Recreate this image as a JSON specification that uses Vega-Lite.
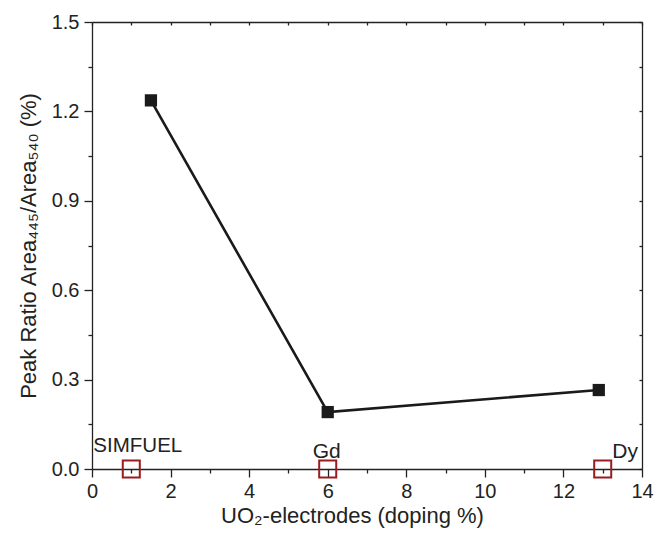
{
  "$schema": "https://vega.github.io/schema/vega-lite/v6.json",
  "width": 550,
  "height": 447,
  "autosize": {"type": "none"},
  "padding": {"left": 92, "top": 22, "right": 12, "bottom": 65},
  "background": "white",
  "config": {
    "view": {"stroke": null},
    "font": "Liberation Sans",
    "axis": {
      "grid": false,
      "domainColor": "#222222",
      "domainWidth": 1.3,
      "tickColor": "#222222",
      "tickWidth": 1.3,
      "labelFont": "Liberation Sans",
      "labelFontSize": 20,
      "labelColor": "#222222",
      "titleFont": "Liberation Sans",
      "titleFontSize": 22,
      "titleFontWeight": "normal",
      "titleColor": "#222222"
    }
  },
  "datasets": {
    "series": [
      {"doping": 1.5, "ratio": 1.237},
      {"doping": 6.0, "ratio": 0.191},
      {"doping": 12.9, "ratio": 0.265}
    ],
    "electrodes": [
      {"doping": 1, "ratio": 0, "name": "SIMFUEL"},
      {"doping": 6, "ratio": 0, "name": "Gd"},
      {"doping": 13, "ratio": 0, "name": "Dy"}
    ]
  },
  "resolve": {"axis": {"x": "independent", "y": "independent"}},
  "layer": [
    {
      "data": {"name": "series"},
      "mark": {"type": "line", "color": "#1a1a1a", "strokeWidth": 2.6},
      "encoding": {
        "x": {
          "field": "doping", "type": "quantitative",
          "scale": {"domain": [0, 14], "nice": false, "zero": false},
          "axis": {
            "orient": "bottom",
            "values": [0,1,2,3,4,5,6,7,8,9,10,11,12,13,14],
            "labelExpr": "datum.value % 2 == 0 ? datum.label : ''",
            "tickSize": {"condition": {"test": "datum.value % 2 == 0", "value": 8}, "value": 4},
            "labelPadding": 4,
            "labelFlush": false,
            "labelOverlap": false,
            "title": "UO₂-electrodes (doping %)",
            "titleX": 260,
            "titlePadding": 4
          }
        },
        "y": {
          "field": "ratio", "type": "quantitative",
          "scale": {"domain": [0, 1.5], "nice": false, "zero": false},
          "axis": {
            "orient": "left",
            "values": [0,0.15,0.3,0.45,0.6,0.75,0.9,1.05,1.2,1.35,1.5],
            "format": ".1f",
            "labelExpr": "round(datum.value*100) % 30 == 0 ? datum.label : ''",
            "tickSize": {"condition": {"test": "round(datum.value*100) % 30 == 0", "value": 8}, "value": 4},
            "labelPadding": 5,
            "labelFlush": false,
            "labelOverlap": false,
            "title": "Peak Ratio Area₄₄₅/Area₅₄₀ (%)",
            "titlePadding": 11
          }
        }
      }
    },
    {
      "data": {"name": "series"},
      "mark": {"type": "point", "shape": "square", "filled": true, "color": "#1a1a1a", "size": 150, "opacity": 1},
      "encoding": {
        "x": {
          "field": "doping", "type": "quantitative",
          "axis": {
            "orient": "top",
            "values": [0,1,2,3,4,5,6,7,8,9,10,11,12,13,14],
            "labels": false,
            "tickSize": -3,
            "title": null
          }
        },
        "y": {
          "field": "ratio", "type": "quantitative",
          "axis": {
            "orient": "right",
            "values": [0,0.15,0.3,0.45,0.6,0.75,0.9,1.05,1.2,1.35,1.5],
            "labels": false,
            "tickSize": -3,
            "title": null
          }
        }
      }
    },
    {
      "data": {"name": "electrodes"},
      "mark": {"type": "point", "shape": "square", "filled": false, "color": "#9a1c1f", "strokeWidth": 2, "size": 290, "opacity": 1},
      "encoding": {
        "x": {"field": "doping", "type": "quantitative", "axis": null},
        "y": {"field": "ratio", "type": "quantitative", "axis": null}
      }
    },
    {
      "data": {"name": "electrodes"},
      "transform": [{"filter": "datum.name == 'SIMFUEL'"}],
      "mark": {"type": "text", "fontSize": 20.5, "color": "#222222", "align": "center", "baseline": "alphabetic", "dx": 6.5, "dy": -17.5},
      "encoding": {
        "x": {"field": "doping", "type": "quantitative", "axis": null},
        "y": {"field": "ratio", "type": "quantitative", "axis": null},
        "text": {"field": "name"}
      }
    },
    {
      "data": {"name": "electrodes"},
      "transform": [{"filter": "datum.name == 'Gd'"}],
      "mark": {"type": "text", "fontSize": 21, "color": "#222222", "align": "center", "baseline": "alphabetic", "dx": -1, "dy": -11},
      "encoding": {
        "x": {"field": "doping", "type": "quantitative", "axis": null},
        "y": {"field": "ratio", "type": "quantitative", "axis": null},
        "text": {"field": "name"}
      }
    },
    {
      "data": {"name": "electrodes"},
      "transform": [{"filter": "datum.name == 'Dy'"}],
      "mark": {"type": "text", "fontSize": 21, "color": "#222222", "align": "left", "baseline": "alphabetic", "dx": 9.5, "dy": -11},
      "encoding": {
        "x": {"field": "doping", "type": "quantitative", "axis": null},
        "y": {"field": "ratio", "type": "quantitative", "axis": null},
        "text": {"field": "name"}
      }
    }
  ]
}
